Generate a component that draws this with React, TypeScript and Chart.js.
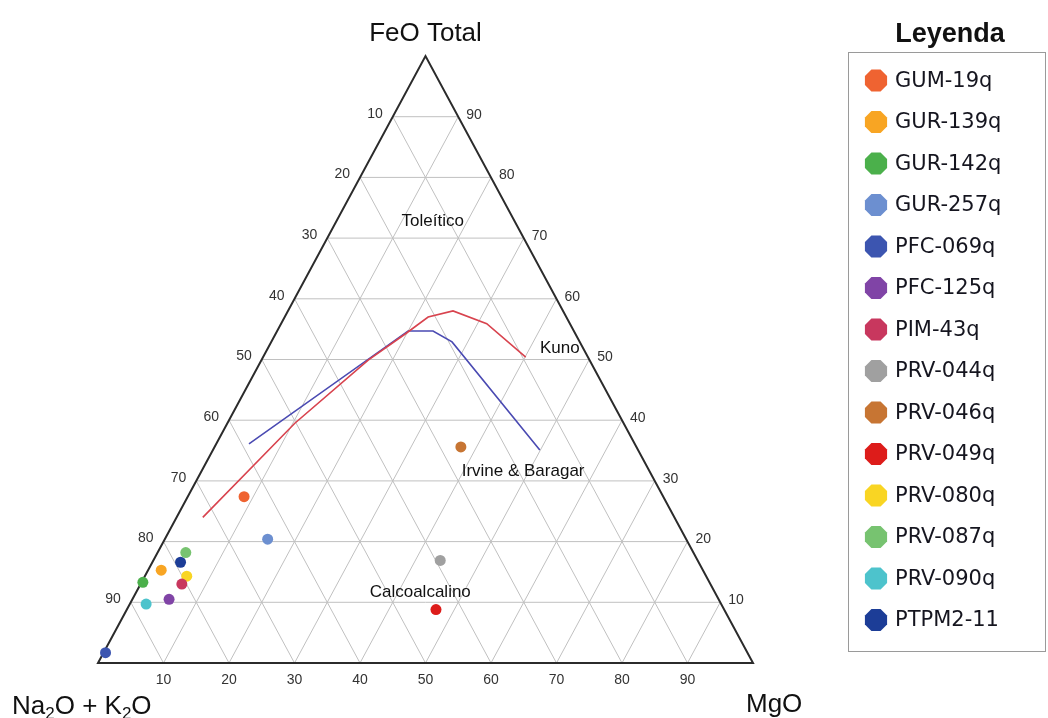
import React, { useEffect, useRef } from "react";
import { Chart, registerables } from "chart.js";

Chart.register(...registerables);

// Samples plotted on the AFM diagram (normalised wt%)
const sampleNames = [
  "GUM-19q", "GUR-139q", "GUR-142q", "GUR-257q", "PFC-069q", "PFC-125q", "PIM-43q",
  "PRV-044q", "PRV-046q", "PRV-049q", "PRV-080q", "PRV-087q", "PRV-090q", "PTPM2-11",
];
const sampleColors = [
  "#ef6331", "#f8a523", "#4bb04b", "#6c8fd0", "#3c55b0", "#8044a6", "#c8375e",
  "#a0a0a0", "#c77533", "#dd1c1a", "#f9d523", "#77c370", "#4dc3cc", "#1c3d97",
];
const sampleAlk = [64.0, 82.7, 86.5, 63.9, 98.0, 83.9, 80.7, 39.3, 26.8, 44.0, 79.3, 77.5, 87.8, 79.1];
const sampleFeo = [27.4, 15.3, 13.3, 20.4, 1.7, 10.5, 13.0, 16.9, 35.6, 8.8, 14.3, 18.2, 9.7, 16.6];
const sampleMgo = [8.6, 2.0, 0.2, 15.7, 0.3, 5.6, 6.3, 43.8, 37.6, 47.2, 6.4, 4.3, 2.5, 4.3];

// Tholeiitic / calc-alkaline boundary after Kuno
const kunoAlk = [72.0, 50.2, 33.8, 26.0, 21.1, 16.8, 12.7, 9.5];
const kunoFeo = [24.0, 39.5, 49.9, 54.2, 57.0, 58.0, 55.9, 50.4];
const kunoMgo = [4.0, 10.3, 16.3, 19.8, 21.9, 25.2, 31.4, 40.1];

// Tholeiitic / calc-alkaline boundary after Irvine & Baragar
const ibAlk = [58.9, 25.3, 21.5, 19.5, 15.0];
const ibFeo = [36.1, 54.7, 54.7, 52.9, 35.1];
const ibMgo = [5.0, 20.0, 23.8, 27.6, 49.9];

// Grid values along each side of the triangle
const gridValues = [10, 20, 30, 40, 50, 60, 70, 80, 90];

// Ternary composition -> cartesian value space (x: 0..100, y: FeO 0..100)
function ternary(a: number, f: number, m: number) {
  const s = a + f + m;
  const fn = (f / s) * 100;
  const mn = (m / s) * 100;
  return { x: mn + fn / 2, y: fn };
}

const SANS = '"Liberation Sans", Arial, sans-serif';
const LEGEND_FONT = '"DejaVu Sans", Verdana, sans-serif';

const ternaryFrame = {
  id: "ternaryFrame",
  beforeDatasetsDraw(chart: any) {
    const { ctx } = chart;
    const sx = chart.scales.x;
    const sy = chart.scales.y;
    const P = (a: number, f: number, m: number) => {
      const p = ternary(a, f, m);
      return [sx.getPixelForValue(p.x), sy.getPixelForValue(p.y)];
    };
    ctx.save();
    // grid lines
    ctx.strokeStyle = "#c0c0c0";
    ctx.lineWidth = 1;
    ctx.beginPath();
    for (const v of gridValues) {
      // constant FeO
      let p1 = P(100 - v, v, 0), p2 = P(0, v, 100 - v);
      ctx.moveTo(p1[0], p1[1]); ctx.lineTo(p2[0], p2[1]);
      // constant MgO
      p1 = P(100 - v, 0, v); p2 = P(0, 100 - v, v);
      ctx.moveTo(p1[0], p1[1]); ctx.lineTo(p2[0], p2[1]);
      // constant alkalis
      p1 = P(v, 0, 100 - v); p2 = P(v, 100 - v, 0);
      ctx.moveTo(p1[0], p1[1]); ctx.lineTo(p2[0], p2[1]);
    }
    ctx.stroke();

    // triangle outline
    const A = P(100, 0, 0), F = P(0, 100, 0), M = P(0, 0, 100);
    ctx.strokeStyle = "#2b2b2b";
    ctx.lineWidth = 2;
    ctx.lineJoin = "miter";
    ctx.beginPath();
    ctx.moveTo(A[0], A[1]);
    ctx.lineTo(F[0], F[1]);
    ctx.lineTo(M[0], M[1]);
    ctx.closePath();
    ctx.stroke();

    // tick labels
    ctx.fillStyle = "#333";
    ctx.font = `14px ${SANS}`;
    for (const v of gridValues) {
      // left side: alkalis
      let p = P(v, 100 - v, 0);
      ctx.textAlign = "right";
      ctx.textBaseline = "middle";
      ctx.fillText(String(v), p[0] - 10, p[1] - 3);
      // right side: FeO
      p = P(0, v, 100 - v);
      ctx.textAlign = "left";
      ctx.fillText(String(v), p[0] + 8, p[1] - 2);
      // bottom: MgO
      p = P(100 - v, 0, v);
      ctx.textAlign = "center";
      ctx.textBaseline = "top";
      ctx.fillText(String(v), p[0], p[1] + 10);
    }
    ctx.restore();
  },
  afterDatasetsDraw(chart: any) {
    const { ctx } = chart;
    const sx = chart.scales.x;
    const sy = chart.scales.y;
    const at = (x: number, y: number) => [sx.getPixelForValue(x), sy.getPixelForValue(y)];
    ctx.save();
    ctx.fillStyle = "#111";
    ctx.textBaseline = "middle";
    ctx.textAlign = "center";
    ctx.font = `17px ${SANS}`;
    let p = at(51.1, 72.7);
    ctx.fillText("Toleítico", p[0], p[1]);
    p = at(70.5, 51.9);
    ctx.fillText("Kuno", p[0], p[1]);
    p = at(64.9, 31.5);
    ctx.fillText("Irvine & Baragar", p[0], p[1]);
    p = at(49.2, 11.7);
    ctx.fillText("Calcoalcalino", p[0], p[1]);

    // vertex titles
    ctx.font = `26px ${SANS}`;
    ctx.textBaseline = "alphabetic";
    const top = at(50, 100);
    ctx.fillText("FeO Total", top[0], top[1] - 15);
    const right = at(100, 0);
    ctx.textAlign = "left";
    ctx.fillText("MgO", right[0] - 7, right[1] + 49);

    // Na2O + K2O with subscripts
    const left = at(0, 0);
    const parts: [string, boolean][] = [["Na", false], ["2", true], ["O + K", false], ["2", true], ["O", false]];
    let x = left[0] - 86;
    const base = left[1] + 51;
    for (const [t, sub] of parts) {
      ctx.font = sub ? `17px ${SANS}` : `26px ${SANS}`;
      ctx.fillText(t, x, sub ? base + 5 : base);
      x += ctx.measureText(t).width;
    }
    ctx.restore();
  },
  afterDraw(chart: any) {
    const { ctx } = chart;
    ctx.save();
    // legend title
    ctx.fillStyle = "#111";
    ctx.font = `bold 27px ${SANS}`;
    ctx.textAlign = "center";
    ctx.textBaseline = "alphabetic";
    ctx.fillText("Leyenda", 950, 42);
    // legend box
    ctx.fillStyle = "#fff";
    ctx.fillRect(848.5, 52.5, 197, 599);
    ctx.strokeStyle = "#9a9a9a";
    ctx.lineWidth = 1;
    ctx.strokeRect(848.5, 52.5, 197, 599);
    // entries
    ctx.font = `21px ${LEGEND_FONT}`;
    ctx.textAlign = "left";
    ctx.textBaseline = "middle";
    chart.data.datasets.forEach((ds: any, i: number) => {
      if (ds.isBoundary) return;
      const k = i - 2;
      const cy = 80.5 + k * 41.5;
      const cx = 876;
      const r = 12;
      ctx.fillStyle = ds.backgroundColor;
      ctx.beginPath();
      for (let j = 0; j < 8; j++) {
        const ang = Math.PI / 8 + (j * Math.PI) / 4;
        const px = cx + r * Math.cos(ang);
        const py = cy + r * Math.sin(ang);
        if (j === 0) ctx.moveTo(px, py); else ctx.lineTo(px, py);
      }
      ctx.closePath();
      ctx.fill();
      ctx.fillStyle = "#15151f";
      ctx.fillText(ds.label, 895, cy + 1);
    });
    ctx.restore();
  },
};

export default function App() {
  const canvasRef = useRef<HTMLCanvasElement | null>(null);

  useEffect(() => {
    if (!canvasRef.current) return;
    const boundary = (label: string, alk: number[], feo: number[], mgo: number[], color: string) => ({
      label,
      isBoundary: true,
      data: alk.map((a, i) => ternary(a, feo[i], mgo[i])),
      showLine: true,
      borderColor: color,
      backgroundColor: color,
      borderWidth: 1.6,
      pointRadius: 0,
      tension: 0,
      fill: false,
    });
    const datasets: any[] = [
      boundary("Kuno", kunoAlk, kunoFeo, kunoMgo, "#d8434e"),
      boundary("Irvine & Baragar", ibAlk, ibFeo, ibMgo, "#4a4ab2"),
      ...sampleNames.map((name, i) => ({
        label: name,
        data: [ternary(sampleAlk[i], sampleFeo[i], sampleMgo[i])],
        backgroundColor: sampleColors[i],
        borderColor: sampleColors[i],
        borderWidth: 0,
        pointRadius: 5.5,
        pointHoverRadius: 5.5,
      })),
    ];
    const chart = new Chart(canvasRef.current, {
      type: "scatter",
      data: { datasets },
      options: {
        animation: false,
        responsive: false,
        devicePixelRatio: 1,
        layout: { padding: { left: 98, right: 295, top: 56, bottom: 55 } },
        scales: {
          x: { type: "linear", min: 0, max: 100, display: false },
          y: { type: "linear", min: 0, max: 100, display: false },
        },
        plugins: {
          legend: { display: false },
          tooltip: { enabled: false },
        },
        events: [],
      },
      plugins: [ternaryFrame],
    });
    return () => chart.destroy();
  }, []);

  return (
    <div style={{ position: "absolute", left: 0, top: 0, width: 1048, height: 718, background: "#fff" }}>
      <canvas ref={canvasRef} width={1048} height={718} />
    </div>
  );
}
